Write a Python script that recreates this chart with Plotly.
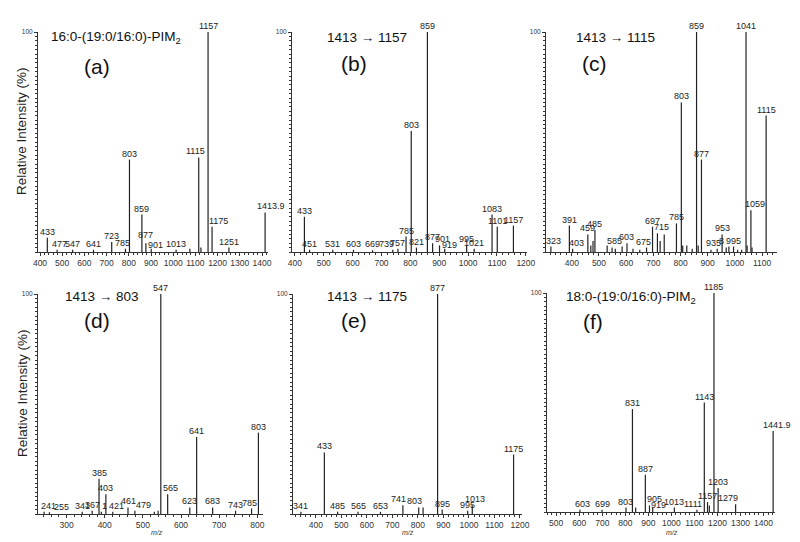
import plotly.graph_objects as go

# ---------------- data ----------------
# (a) 16:0-(19:0/16:0)-PIM2 full MS
mz_a = [433, 477, 547, 641, 723, 785, 803, 859, 877, 901, 1013, 1075, 1125, 1115, 1157, 1175, 1251, 1413.9]
int_a = [6.5, 1, 1, 1, 4.5, 1.5, 42, 17, 4, 1.5, 1, 1.5, 2, 43, 100, 11.5, 2, 18]
lab_a = ["433", "477", "547", "641", "723", "785", "803", "859", "877", "901", "1013", "", "", "1115", "1157", "1175", "1251", "1413.9"]

# (b) 1413 -> 1157
mz_b = [433, 451, 531, 603, 669, 739, 757, 785, 803, 821, 859, 877, 901, 919, 995, 1021, 1083, 1101, 1157]
int_b = [16, 1, 1, 1, 0.8, 1, 1.5, 7, 55, 2, 100, 4, 3, 1.5, 3, 1.5, 17, 11.5, 12]
lab_b = ["433", "451", "531", "603", "669", "739", "757", "785", "803", "821", "859", "877", "901", "919", "995", "1021", "1083", "1101", "1157"]

# (c) 1413 -> 1115
mz_c = [323, 391, 403, 459, 470, 478, 485, 530, 548, 560, 585, 603, 625, 650, 675, 697, 715, 725, 740,
        785, 803, 808, 823, 843, 859, 865, 877, 912, 935, 953, 968, 978, 995, 1010, 1025, 1041, 1045, 1059, 1063, 1115]
int_c = [2.5, 12, 1.5, 8, 3, 5, 10, 3, 2, 1.5, 2.5, 4, 1.5, 1, 2, 11.5, 8.5, 5, 8,
         13, 68, 3, 3, 1.5, 100, 3, 42, 1, 1.5, 8, 2, 2.5, 2.5, 1, 1, 100, 3, 19, 2, 62]
lab_c = ["323", "391", "403", "459", "", "", "485", "", "", "", "585", "603", "", "", "675", "697", "715", "", "",
         "785", "803", "", "", "", "859", "", "877", "", "935", "953", "", "8", "995", "", "", "1041", "", "1059", "", "1115"]

# (d) 1413 -> 803
mz_d = [241, 255, 341, 367, 385, 391, 403, 421, 461, 479, 530, 540, 547, 565, 623, 641, 683, 743, 785, 803]
int_d = [1, 0.8, 1, 1.5, 16, 1, 9, 1, 3, 1.5, 1, 1.5, 100, 9, 3, 35, 3, 1.5, 2.5, 37]
lab_d = ["241", "255", "341", "367", "385", "1", "403", "421", "461", "479", "", "", "547", "565", "623", "641", "683", "743", "785", "803"]

# (e) 1413 -> 1175
mz_e = [341, 433, 485, 565, 653, 741, 803, 820, 877, 895, 995, 1013, 1175]
int_e = [1, 28, 1, 1, 1, 4, 3, 3, 100, 2, 1.5, 4, 27]
lab_e = ["341", "433", "485", "565", "653", "741", "803", "", "877", "895", "995", "1013", "1175"]

# (f) 18:0-(19:0/16:0)-PIM2 full MS
mz_f = [603, 699, 803, 831, 845, 887, 905, 919, 1013, 1111, 1143, 1157, 1165, 1185, 1203, 1279, 1441.9]
int_f = [1, 1, 2, 47, 2, 17, 3, 2, 2, 1, 50, 4.5, 3, 100, 11, 3.5, 37]
lab_f = ["603", "699", "803", "831", "", "887", "905", "919", "1013", "1111", "1143", "1157", "", "1185", "1203", "1279", "1441.9"]

titles = ["16:0-(19:0/16:0)-PIM<sub>2</sub>", "1413 \u2192 1157", "1413 \u2192 1115",
          "1413 \u2192 803", "1413 \u2192 1175", "18:0-(19:0/16:0)-PIM<sub>2</sub>"]
letters = ["(a)", "(b)", "(c)", "(d)", "(e)", "(f)"]
y_title = "Relative Intensity (%)"
x_title = "<i>m/z</i>"

# label nudges in pixels (style only): (panel, label) -> (dx, dy)
nudge = {
    (1, "785"): (-3, 0), (1, "901"): (4, -2), (1, "1175"): (6, 0), (1, "1413.9"): (6, 0),
    (1, "1115"): (-3, 0), (1, "477"): (2, 0), (1, "877"): (0, 2),
    (2, "739"): (-6, 0), (2, "901"): (3, 0), (2, "919"): (5, -2),
    (3, "403"): (4, 0), (3, "585"): (-8, 0), (3, "675"): (-3, 0), (3, "715"): (4, 0),
    (3, "935"): (-4, 0), (3, "1059"): (4, 0), (3, "323"): (3, 0), (3, "8"): (-7, 0),
    (4, "241"): (4, 0), (4, "255"): (12, -1), (4, "421"): (4, 0), (4, "479"): (9, 0),
    (4, "565"): (3, 0), (4, "785"): (-2, 0), (4, "1"): (3, 0),
    (5, "741"): (-4, 0), (5, "803"): (-4, 0), (5, "1013"): (3, 0),
    (6, "603"): (3, 0), (6, "905"): (5, 0), (6, "919"): (6, -3), (6, "1111"): (-4, 0),
    (6, "1279"): (-8, 0), (6, "1441.9"): (4, 0),
}

# ---------------- layout geometry (pixels) ----------------
W, H = 800, 542
panels = [
    dict(mz=mz_a, it=int_a, lab=lab_a, xpx=(38, 268), ypx=(252, 32), xr=(391, 1427), title_xy=(49, 38), let_xy=(97, 66)),
    dict(mz=mz_b, it=int_b, lab=lab_b, xpx=(292, 527), ypx=(252, 32), xr=(390, 1204), title_xy=(325, 38), let_xy=(354, 64)),
    dict(mz=mz_c, it=int_c, lab=lab_c, xpx=(546, 777), ypx=(252, 32), xr=(305, 1155), title_xy=(574, 38), let_xy=(594, 64)),
    dict(mz=mz_d, it=int_d, lab=lab_d, xpx=(38, 263), ypx=(514, 294), xr=(225, 815), title_xy=(63, 296), let_xy=(97, 320)),
    dict(mz=mz_e, it=int_e, lab=lab_e, xpx=(293, 522), ypx=(514, 294), xr=(310, 1208), title_xy=(325, 296), let_xy=(354, 320)),
    dict(mz=mz_f, it=int_f, lab=lab_f, xpx=(547, 775), ypx=(512, 293), xr=(460, 1450), title_xy=(564, 297), let_xy=(593, 322)),
]

INK = "#222222"
AXC = "#333333"
LBL_FONT = "Liberation Sans Narrow, Arial Narrow, Liberation Sans, sans-serif"
TXT_FONT = "Liberation Sans, Arial, sans-serif"
fig = go.Figure()
annotations = []
layout = dict(width=W, height=H, margin=dict(l=0, r=0, t=0, b=0, autoexpand=False),
              paper_bgcolor="white", plot_bgcolor="white", showlegend=False)

for i, p in enumerate(panels, start=1):
    sfx = "" if i == 1 else str(i)
    xs, ys = [], []
    for m, h in zip(p["mz"], p["it"]):
        xs += [m, m, None]
        ys += [0, h, None]
    fig.add_trace(go.Scatter(x=xs, y=ys, mode="lines", line=dict(color=INK, width=1.2),
                             xaxis="x" + sfx, yaxis="y" + sfx, hoverinfo="skip"))
    x0, x1 = p["xpx"]
    yb, yt = p["ypx"]
    layout["xaxis" + sfx] = dict(
        domain=[x0 / W, x1 / W], range=list(p["xr"]), anchor="y" + sfx,
        showgrid=False, zeroline=False, showline=True, linecolor=AXC, linewidth=1,
        tick0=0, dtick=100, ticks="outside", ticklen=3, tickcolor=AXC, tickangle=0,
        minor=dict(dtick=20, ticks="outside", ticklen=2, tickcolor=AXC),
        tickfont=dict(family=TXT_FONT, size=8.5, color=AXC))
    layout["yaxis" + sfx] = dict(
        domain=[1 - yb / H, 1 - yt / H], range=[0, 100], anchor="x" + sfx,
        showgrid=False, zeroline=False, showline=True, linecolor=AXC, linewidth=1,
        tickmode="array", tickvals=[100], ticktext=["100"], ticks="outside", ticklen=3, tickcolor=AXC,
        minor=dict(tickmode="linear", tick0=0, dtick=2, ticks="outside", ticklen=2, tickcolor=AXC),
        tickfont=dict(family=TXT_FONT, size=6.5, color=AXC))
    for m, h, t in zip(p["mz"], p["it"], p["lab"]):
        if not t:
            continue
        dx, dy = nudge.get((i, t), (0, 0))
        annotations.append(dict(x=m, y=h, xref="x" + sfx, yref="y" + sfx, text=t, showarrow=False,
                                yanchor="bottom", xanchor="center", xshift=dx, yshift=dy - 1,
                                font=dict(family=LBL_FONT, size=9, color=INK)))
    tx, ty = p["title_xy"]
    annotations.append(dict(x=tx / W, y=1 - ty / H, xref="paper", yref="paper", text=titles[i - 1],
                            showarrow=False, xanchor="left", yanchor="middle",
                            font=dict(family=TXT_FONT, size=13.5, color="#111")))
    lx, ly = p["let_xy"]
    annotations.append(dict(x=lx / W, y=1 - ly / H, xref="paper", yref="paper", text=letters[i - 1],
                            showarrow=False, xanchor="center", yanchor="middle",
                            font=dict(family=TXT_FONT, size=21, color="#111")))

# y-axis titles
for cy in (131, 393):
    annotations.append(dict(x=22 / W, y=1 - cy / H, xref="paper", yref="paper", text=y_title,
                            showarrow=False, textangle=-90, xanchor="center", yanchor="middle",
                            font=dict(family=TXT_FONT, size=13.5, color="#222")))
# m/z titles
for cx in (157, 408, 672):
    annotations.append(dict(x=cx / W, y=1 - 532 / H, xref="paper", yref="paper", text=x_title,
                            showarrow=False, xanchor="center", yanchor="middle",
                            font=dict(family=TXT_FONT, size=7, color="#333")))

layout["annotations"] = annotations
fig.update_layout(**layout)
fig.write_html("out.html", config={"displayModeBar": False},
               post_script="document.body.style.margin='0px';document.body.style.padding='0px';")
